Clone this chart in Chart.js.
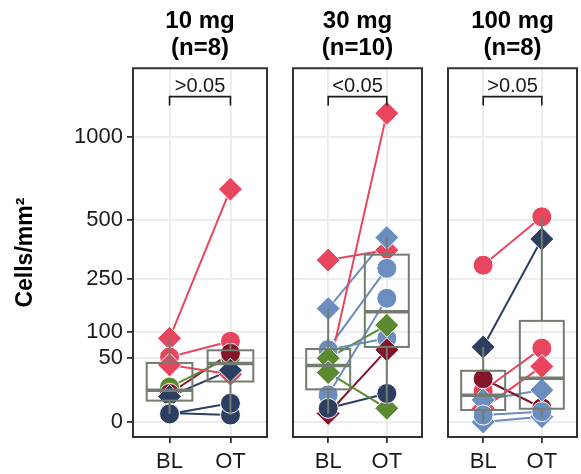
<!DOCTYPE html>
<html>
<head>
<meta charset="utf-8">
<script src="https://cdn.jsdelivr.net/npm/chart.js@4.4.0/dist/chart.umd.min.js"></script>
<style>
  html, body { margin: 0; padding: 0; background: #fff; overflow: hidden; }
  #wrap { position: relative; width: 581px; height: 474px; overflow: hidden; }
  canvas { position: absolute; top: 0; }
</style>
</head>
<body>
<div id="wrap">
  <canvas id="panel0" width="280" height="474" style="left:0"></canvas>
  <canvas id="panel1" width="155" height="474" style="left:280px"></canvas>
  <canvas id="panel2" width="155" height="474" style="left:435px"></canvas>
</div>
<script>
// Cells/mm2 at baseline (BL) and on treatment (OT), one entry per subject
const doses = ['10 mg', '30 mg', '100 mg'];
const nLabels = ['(n=8)', '(n=10)', '(n=8)'];
const timepoints = ['BL', 'OT'];
const pLabels = ['>0.05', '<0.05', '>0.05'];
const yTicks = [0, 50, 100, 250, 500, 1000];
const yTickLabels = ['0', '50', '100', '250', '500', '1000'];
const bracketTop = 1300;
const bracketLeg = 1230;

const bl10 = [86, 52, 40, 15, 10, 8, 1, 0.8];
const ot10 = [666, 80, 28, 52, 58, 33, 0.6, 4.3];
const grp10 = ['red', 'red', 'red', 'green', 'maroon', 'navy', 'navy', 'navy'];
const shape10 = ['diamond', 'circle', 'diamond', 'circle', 'circle', 'diamond', 'circle', 'circle'];

const bl30 = [30, 322, 158, 66, 64, 9, 50, 30, 0.9, 2.3];
const ot30 = [1170, 363, 418, 290, 86, 188, 115, 2.3, 64, 10];
const grp30 = ['red', 'red', 'blue', 'blue', 'blue', 'blue', 'green', 'green', 'maroon', 'navy'];
const shape30 = ['diamond', 'diamond', 'diamond', 'circle', 'circle', 'circle', 'diamond', 'diamond', 'diamond', 'circle'];

const bl100 = [302, 69, 12, 2.3, 23, 6, 0, 0.6];
const ot100 = [517, 411, 67, 38, 2.5, 12.6, 0.35, 1.3];
const grp100 = ['red', 'navy', 'red', 'red', 'maroon', 'blue', 'blue', 'blue'];
const shape100 = ['circle', 'diamond', 'circle', 'diamond', 'circle', 'diamond', 'diamond', 'circle'];

const panels = [
  { bl: bl10, ot: ot10, grp: grp10, shape: shape10 },
  { bl: bl30, ot: ot30, grp: grp30, shape: shape30 },
  { bl: bl100, ot: ot100, grp: grp100, shape: shape100 }
];

const colors = {
  red: '#E8455F',
  navy: '#2C3F63',
  blue: '#6B8DBF',
  green: '#5C8A2E',
  maroon: '#85142A'
};
const boxColor = '#727C6F';
const gridColor = '#EBEBEB';
const inkColor = '#1A1A1A';
const fontFamily = "'Liberation Sans', Arial, sans-serif";

Chart.defaults.font.family = fontFamily;

// square-root axis, like scale_y_sqrt in ggplot (signed so the padding below 0 works)
const tf = v => Math.sign(v) * Math.sqrt(Math.abs(v));

class SqrtScale extends Chart.LinearScale {
  buildTicks() {
    return yTicks.map(v => ({ value: v }));
  }
  configure() {
    super.configure();
    this._tMin = tf(this.min);
    this._tMax = tf(this.max);
  }
  getPixelForValue(value) {
    return this.getPixelForDecimal((tf(value) - this._tMin) / (this._tMax - this._tMin));
  }
  getValueForPixel(pixel) {
    const t = this._tMin + this.getDecimalForPixel(pixel) * (this._tMax - this._tMin);
    return Math.sign(t) * t * t;
  }
}
SqrtScale.id = 'sqrt';
SqrtScale.defaults = {};
Chart.register(SqrtScale);

function quantile(sorted, q) {
  const pos = (sorted.length - 1) * q;
  const lo = Math.floor(pos);
  const hi = Math.ceil(pos);
  return sorted[lo] + (sorted[hi] - sorted[lo]) * (pos - lo);
}

// box stats on the sqrt values, then back to cells/mm2
function boxStats(vals) {
  const t = vals.map(Math.sqrt).sort((a, b) => a - b);
  const q1 = quantile(t, 0.25);
  const med = quantile(t, 0.5);
  const q3 = quantile(t, 0.75);
  const iqr = q3 - q1;
  const inside = t.filter(v => v >= q1 - 1.5 * iqr && v <= q3 + 1.5 * iqr);
  const sq = v => v * v;
  return {
    lo: sq(Math.min(...inside)),
    q1: sq(q1),
    med: sq(med),
    q3: sq(q3),
    hi: sq(Math.max(...inside))
  };
}

// boxplots on top of the points, the p-value bracket and the panel frame
const panelDecor = {
  id: 'panelDecor',
  afterDatasetsDraw(chart, args, opts) {
    const { ctx, chartArea: a } = chart;
    const x = chart.scales.x;
    const y = chart.scales.y;
    const p = panels[opts.index];
    ctx.save();

    [p.bl, p.ot].forEach((vals, k) => {
      const s = boxStats(vals);
      const cx = x.getPixelForValue(k + 1);
      const left = x.getPixelForValue(k + 1 - 0.375);
      const right = x.getPixelForValue(k + 1 + 0.375);
      ctx.strokeStyle = boxColor;
      ctx.lineWidth = 2;
      ctx.beginPath();
      ctx.moveTo(cx, y.getPixelForValue(s.q3));
      ctx.lineTo(cx, y.getPixelForValue(s.hi));
      ctx.moveTo(cx, y.getPixelForValue(s.q1));
      ctx.lineTo(cx, y.getPixelForValue(s.lo));
      ctx.stroke();
      const top = y.getPixelForValue(s.q3);
      const bottom = y.getPixelForValue(s.q1);
      ctx.strokeRect(left, top, right - left, bottom - top);
      ctx.lineWidth = 3.5;
      ctx.beginPath();
      ctx.moveTo(left, y.getPixelForValue(s.med));
      ctx.lineTo(right, y.getPixelForValue(s.med));
      ctx.stroke();
    });

    // bracket
    const bx1 = x.getPixelForValue(1);
    const bx2 = x.getPixelForValue(2);
    const by = y.getPixelForValue(bracketTop);
    const byLeg = y.getPixelForValue(bracketLeg);
    ctx.strokeStyle = inkColor;
    ctx.lineWidth = 1.6;
    ctx.beginPath();
    ctx.moveTo(bx1, byLeg);
    ctx.lineTo(bx1, by);
    ctx.lineTo(bx2, by);
    ctx.lineTo(bx2, byLeg);
    ctx.stroke();
    ctx.fillStyle = inkColor;
    ctx.font = '20px ' + fontFamily;
    ctx.textAlign = 'center';
    ctx.textBaseline = 'alphabetic';
    ctx.fillText(pLabels[opts.index], (bx1 + bx2) / 2, by - 5);

    // frame
    ctx.strokeStyle = '#333333';
    ctx.lineWidth = 2;
    ctx.strokeRect(a.left, a.top, a.right - a.left, a.bottom - a.top);
    ctx.restore();
  }
};

function buildDatasets(p) {
  const lines = [];
  const points = [];
  p.bl.forEach((bl, i) => {
    const c = colors[p.grp[i]];
    const pts = [{ x: 1, y: bl }, { x: 2, y: p.ot[i] }];
    lines.push({
      data: pts,
      borderColor: c,
      borderWidth: 2,
      pointRadius: 0,
      order: 2
    });
    const isDiamond = p.shape[i] === 'diamond';
    points.push({
      data: pts,
      showLine: false,
      pointStyle: isDiamond ? 'rectRot' : 'circle',
      pointRadius: isDiamond ? 12 : 10,
      backgroundColor: c,
      borderColor: '#ffffff',
      pointBorderWidth: 1,
      order: 1
    });
  });
  // first subjects end up on top
  return lines.concat(points.reverse());
}

function makePanel(index) {
  const first = index === 0;
  const ctx = document.getElementById('panel' + index);
  new Chart(ctx, {
    type: 'line',
    data: { datasets: buildDatasets(panels[index]) },
    options: {
      responsive: false,
      animation: false,
      events: [],
      clip: false,
      layout: { padding: { left: first ? 0 : 8, right: 2, top: 0, bottom: 0 } },
      plugins: {
        legend: { display: false },
        tooltip: { enabled: false },
        title: {
          display: true,
          fullSize: false,
          text: [doses[index], nLabels[index]],
          color: '#000',
          font: { size: 24, weight: 'bold', lineHeight: 1.13 },
          padding: { top: 8, bottom: 6 }
        },
        panelDecor: { index: index }
      },
      scales: {
        x: {
          type: 'linear',
          min: 0.4,
          max: 2.6,
          bounds: 'data',
          afterBuildTicks: axis => { axis.ticks = [{ value: 1 }, { value: 2 }]; },
          afterFit: axis => { axis.height = 37; },
          ticks: {
            callback: v => timepoints[v - 1],
            color: inkColor,
            font: { size: 22 },
            padding: 6,
            maxRotation: 0,
            autoSkip: false
          },
          grid: { color: gridColor, lineWidth: 1.8, tickColor: '#333', tickLength: 6, tickWidth: 1.8 },
          border: { display: false }
        },
        y: {
          type: 'sqrt',
          min: -2.76,
          max: 1537,
          afterFit: axis => { axis.width = first ? 133 : 0; },
          ticks: {
            display: first,
            callback: (v, i) => yTickLabels[i],
            color: inkColor,
            font: { size: 22 },
            padding: 4
          },
          grid: {
            color: gridColor,
            lineWidth: 1.8,
            drawTicks: first,
            tickColor: '#333',
            tickLength: 6,
            tickWidth: 1.8
          },
          border: { display: false },
          title: {
            display: first,
            text: 'Cells/mm²',
            color: '#000',
            font: { size: 23, weight: 'bold', lineHeight: 1.2 },
            padding: { top: 12, bottom: 0 }
          }
        }
      }
    },
    plugins: [panelDecor]
  });
}

[0, 1, 2].forEach(makePanel);
</script>
</body>
</html>
